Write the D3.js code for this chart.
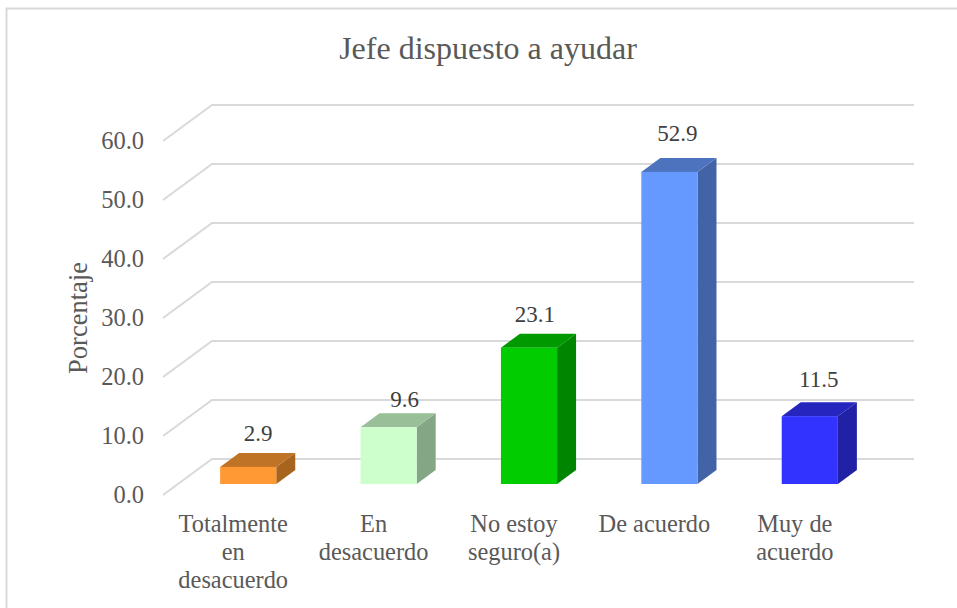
<!DOCTYPE html>
<html>
<head>
<meta charset="utf-8">
<script src="https://cdn.jsdelivr.net/npm/d3@7"></script>
<style>
body { margin: 0; background: #fff; }
text { font-family: "Liberation Serif", serif; }
</style>
</head>
<body>
<svg id="chart" width="957" height="608"></svg>
<script>
const categories = [['Totalmente', 'en', 'desacuerdo'], ['En', 'desacuerdo'], ['No estoy', 'seguro(a)'], ['De acuerdo'], ['Muy de', 'acuerdo']]
const values = [2.9, 9.6, 23.1, 52.9, 11.5]
const frontColors = ['#ff9933', '#ccffcc', '#00cc00', '#6699ff', '#3333ff']
const topColors = ['#bf7326', '#99bf99', '#009900', '#4d73bf', '#2626bf']
const sideColors = ['#a6641f', '#85a685', '#008500', '#4264a6', '#2121a6']
const yTicks = [0, 10, 20, 30, 40, 50, 60]

const svg = d3.select('#chart')
const gridColor = '#d9d9d9'
const textColor = '#595959'

// depth of the floor and of one bar
const floorDx = 49
const floorDy = -36
const barDx = 19
const barDy = -14

// the data labels were moved by hand in the original
const labelNudgeX = [0, 6, -4, -2, -1]
const labelNudgeY = [-3, 3, -3, -8, -6]

const xScale = d3.scaleBand()
	.domain(d3.range(values.length))
	.range([178, 880])
	.paddingInner(0.6)
	.paddingOuter(0.3)

// y of the front plane of the floor
const yScale = d3.scaleLinear()
	.domain([0, 60])
	.range([495, 141])

// chart border, only top and left are inside the picture
svg.append('path')
	.attr('d', 'M6.5,608V8.5H957')
	.attr('fill', 'none')
	.attr('stroke', gridColor)
	.attr('stroke-width', 2)

svg.append('text')
	.attr('x', 488)
	.attr('y', 59)
	.attr('text-anchor', 'middle')
	.attr('font-size', 32)
	.attr('fill', textColor)
	.text('Jefe dispuesto a ayudar')

// gridlines: side wall then back wall
svg.append('g')
	.selectAll('path')
	.data(yTicks)
	.enter()
	.append('path')
		.attr('d', d => `M163,${yScale(d)}l${floorDx},${floorDy}H914`)
		.attr('fill', 'none')
		.attr('stroke', gridColor)
		.attr('stroke-width', 2)

const yAxis = d3.axisLeft(yScale)
	.tickValues(yTicks)
	.tickFormat(d3.format('.1f'))
	.tickSize(0)
	.tickPadding(0)

const yAxisG = svg.append('g')
	.attr('transform', 'translate(144, 0)')
	.call(yAxis)
yAxisG.select('path.domain').remove()
yAxisG.selectAll('text')
	.attr('font-family', '"Liberation Serif", serif')
	.attr('font-size', 24.5)
	.attr('fill', textColor)

svg.append('text')
	.attr('transform', 'translate(87, 318) rotate(-90)')
	.attr('text-anchor', 'middle')
	.attr('font-size', 26.5)
	.attr('fill', textColor)
	.text('Porcentaje')

// bars sit in the middle of the floor depth
const baseY = yScale(0) + (floorDy - barDy) / 2
const bars = svg.selectAll('g.bar')
	.data(values)
	.enter()
	.append('g')
		.attr('class', 'bar')
		.attr('transform', (d, i) => `translate(${xScale(i)}, ${baseY})`)

const w = xScale.bandwidth()
const h = d => yScale(0) - yScale(d)

bars.append('path')
	.attr('d', d => `M${w},0v${-h(d)}l${barDx},${barDy}v${h(d)}Z`)
	.attr('fill', (d, i) => sideColors[i])
bars.append('path')
	.attr('d', d => `M0,${-h(d)}l${barDx},${barDy}h${w}l${-barDx},${-barDy}Z`)
	.attr('fill', (d, i) => topColors[i])
bars.append('rect')
	.attr('y', d => -h(d))
	.attr('width', w)
	.attr('height', h)
	.attr('fill', (d, i) => frontColors[i])

bars.append('text')
	.attr('x', (d, i) => w / 2 + 10 + labelNudgeX[i])
	.attr('y', (d, i) => -h(d) - 23 + labelNudgeY[i])
	.attr('text-anchor', 'middle')
	.attr('font-size', 23)
	.attr('fill', '#404040')
	.text(d => d.toFixed(1))

// wrapped category labels
const labels = svg.selectAll('text.cat')
	.data(categories)
	.enter()
	.append('text')
		.attr('class', 'cat')
		.attr('text-anchor', 'middle')
		.attr('font-size', 24.4)
		.attr('fill', textColor)
		.attr('transform', (d, i) => `translate(${xScale(i) + w / 2 - 15}, 532)`)

labels.selectAll('tspan')
	.data(d => d)
	.enter()
	.append('tspan')
		.attr('x', 0)
		.attr('y', (d, i) => i * 28)
		.text(d => d)
</script>
</body>
</html>
